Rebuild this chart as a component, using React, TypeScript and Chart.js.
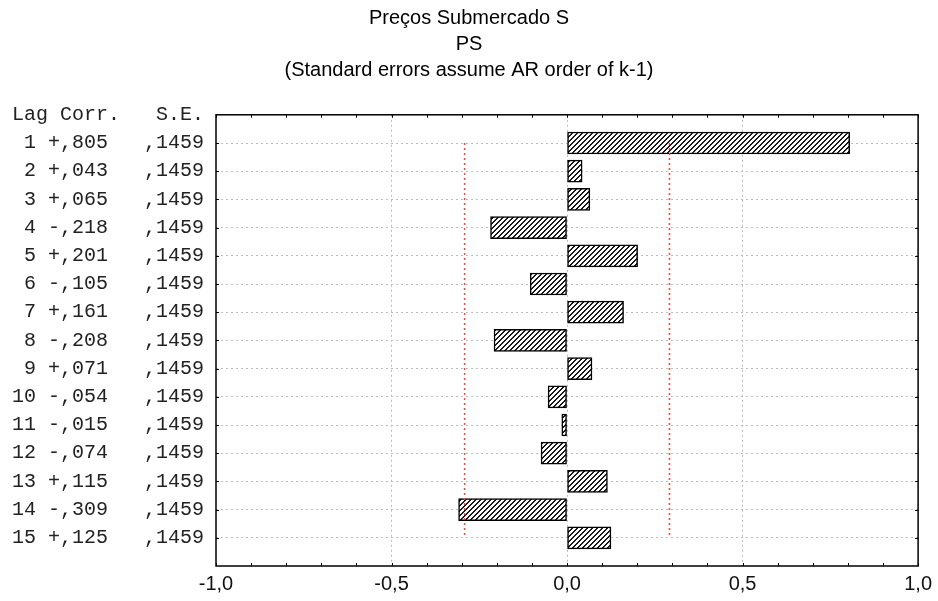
import React, { useEffect, useRef } from "react";
import { Chart, registerables } from "chart.js";

Chart.register(...registerables);

const titleLines = ["Preços Submercado S", "PS", "(Standard errors assume AR order of k-1)"];
const headerLabel = "Lag Corr.   S.E.";
const lags = [1, 2, 3, 4, 5, 6, 7, 8, 9, 10, 11, 12, 13, 14, 15];
const corrValues = [0.805, 0.043, 0.065, -0.218, 0.201, -0.105, 0.161, -0.208, 0.071, -0.054, -0.015, -0.074, 0.115, -0.309, 0.125];
const seValues = [0.1459, 0.1459, 0.1459, 0.1459, 0.1459, 0.1459, 0.1459, 0.1459, 0.1459, 0.1459, 0.1459, 0.1459, 0.1459, 0.1459, 0.1459];
const xTickLabels = ["-1,0", "-0,5", "0,0", "0,5", "1,0"];

function fmtCorr(v: number) {
  const sign = v >= 0 ? "+" : "-";
  return sign + Math.abs(v).toFixed(3).slice(1).replace(".", ",");
}
function fmtSe(v: number) {
  return v.toFixed(4).slice(1).replace(".", ",");
}
const rowLabels = lags.map(
  (l, i) => String(l).padStart(2, " ") + " " + fmtCorr(corrValues[i]) + "   " + fmtSe(seValues[i])
);

function makeHatch(): CanvasPattern | string {
  const n = 5;
  const c = document.createElement("canvas");
  c.width = n;
  c.height = n;
  const g = c.getContext("2d");
  if (!g) return "#888";
  g.fillStyle = "#fff";
  g.fillRect(0, 0, n, n);
  g.fillStyle = "#1a1a1a";
  for (let i = 0; i < n; i++) {
    const yy = n - 1 - i;
    g.fillRect(i, yy, 1, 1);
    g.fillRect((i + 1) % n, yy, 1, 1);
  }
  return g.createPattern(c, "repeat") || "#888";
}

const frameTicks = {
  id: "frameTicks",
  afterDraw(chart: any) {
    const { ctx, chartArea, scales } = chart;
    const { left, right, top, bottom } = chartArea;
    const x = scales.x;
    const y = scales.y;
    ctx.save();
    ctx.strokeStyle = "#000";
    ctx.lineWidth = 1;
    ctx.beginPath();
    x.ticks.forEach((t: any) => {
      const px = Math.round(x.getPixelForValue(t.value)) + 0.5;
      ctx.moveTo(px, bottom);
      ctx.lineTo(px, bottom - 3);
      ctx.moveTo(px, top);
      ctx.lineTo(px, top + 3);
    });
    lags.forEach((l) => {
      const py = Math.round(y.getPixelForValue(l)) + 0.5;
      ctx.moveTo(left, py);
      ctx.lineTo(left + 3, py);
      ctx.moveTo(right, py);
      ctx.lineTo(right - 3, py);
    });
    ctx.stroke();
    ctx.lineWidth = 1.5;
    ctx.strokeRect(left, top, right - left, bottom - top);
    ctx.restore();
  },
};

export default function App() {
  const ref = useRef<HTMLCanvasElement | null>(null);

  useEffect(() => {
    if (!ref.current) return;
    const hatch = makeHatch();
    const isLabelTick = (v: number) => Math.abs(v * 2 - Math.round(v * 2)) < 1e-6;
    const redLine = (sign: number) => ({
      type: "line",
      data: lags.map((l, i) => ({ x: sign * 2 * seValues[i], y: l })),
      borderColor: "#ff4040",
      borderWidth: 1.5,
      borderDash: [2, 3],
      pointRadius: 0,
      fill: false,
      order: 0,
    });
    const chart = new Chart(ref.current, {
      type: "bar",
      data: {
        datasets: [
          redLine(-1) as any,
          redLine(1) as any,
          {
            type: "bar",
            data: lags.map((l, i) => ({ x: corrValues[i], y: l })),
            backgroundColor: hatch as any,
            borderColor: "#000",
            borderWidth: 1.5,
            borderSkipped: false,
            barThickness: 22,
            order: 1,
          } as any,
        ],
      },
      options: {
        indexAxis: "y",
        animation: false,
        responsive: false,
        maintainAspectRatio: false,
        layout: { padding: 0 },
        plugins: {
          legend: { display: false },
          tooltip: { enabled: false },
          title: {
            display: true,
            text: titleLines,
            color: "#000",
            font: { family: "'Liberation Sans', Arial, sans-serif", size: 20, weight: "normal", lineHeight: 1.28 },
            padding: { top: 6, bottom: 32 },
          },
        },
        scales: {
          x: {
            type: "linear",
            position: "bottom",
            min: -1,
            max: 1,
            offset: false,
            afterFit: (s: any) => {
              s.height = 35;
            },
            ticks: {
              stepSize: 0.1,
              autoSkip: false,
              maxRotation: 0,
              padding: 6,
              color: "#111",
              font: { family: "'Liberation Sans', Arial, sans-serif", size: 20 },
              callback: (v: any) => {
                const n = Number(v);
                if (!isLabelTick(n)) return "";
                const idx = Math.round((n + 1) * 2);
                return xTickLabels[idx] ?? "";
              },
            },
            grid: {
              offset: false,
              drawTicks: false,
              lineWidth: 1,
              color: (ctx: any) => {
                const v = ctx.tick ? ctx.tick.value : 0;
                if (Math.abs(Math.abs(v) - 1) < 1e-6) return "transparent";
                return isLabelTick(v) ? "#bdbdbd" : "transparent";
              },
            },
            border: { display: false, dash: [2, 3] },
          },
          y: {
            type: "linear",
            min: 0,
            max: 16,
            reverse: true,
            offset: false,
            afterFit: (s: any) => {
              s.width = 216;
            },
            ticks: {
              stepSize: 1,
              autoSkip: false,
              padding: 12,
              color: "#222",
              font: { family: "'Liberation Mono', 'Courier New', monospace", size: 20 },
              callback: (v: any) => {
                const n = Math.round(Number(v));
                if (n === 0) return headerLabel;
                const i = lags.indexOf(n);
                return i >= 0 ? rowLabels[i] : "";
              },
            },
            grid: {
              offset: false,
              drawTicks: false,
              lineWidth: 1,
              color: (ctx: any) => {
                const v = ctx.tick ? ctx.tick.value : 0;
                return lags.includes(Math.round(v)) && Math.abs(v - Math.round(v)) < 1e-6 ? "#bdbdbd" : "transparent";
              },
            },
            border: { display: false, dash: [2, 3] },
          },
          yRight: {
            type: "linear",
            position: "right",
            display: true,
            min: 0,
            max: 16,
            afterFit: (s: any) => {
              s.width = 18;
            },
            ticks: { display: false },
            grid: { display: false, drawTicks: false },
            border: { display: false },
          },
        },
      },
      plugins: [frameTicks],
    } as any);
    return () => chart.destroy();
  }, []);

  return (
    <div style={{ position: "fixed", left: 0, top: 0, width: 938, height: 601, background: "#fff" }}>
      <canvas ref={ref} width={938} height={601} style={{ display: "block" }} />
    </div>
  );
}
